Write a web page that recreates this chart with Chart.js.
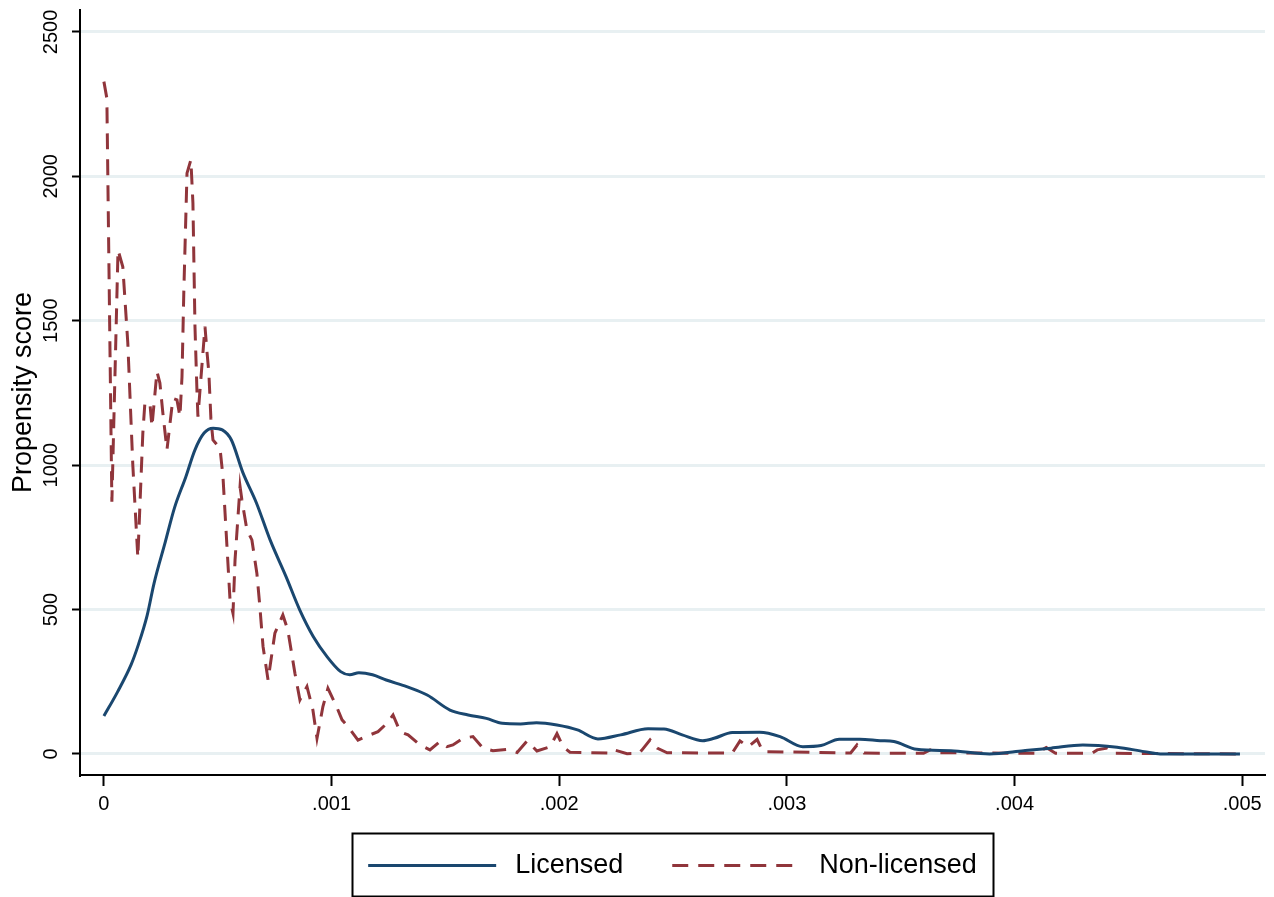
<!DOCTYPE html>
<html>
<head>
<meta charset="utf-8">
<title>Propensity score density</title>
<script src="https://cdn.jsdelivr.net/npm/chart.js@4.4.1/dist/chart.umd.min.js"></script>
<style>
  html, body { margin: 0; padding: 0; background: #ffffff; }
  #wrap { width: 1274px; height: 897px; }
</style>
</head>
<body>
<div id="wrap"><canvas id="c" width="1274" height="897"></canvas></div>
<script>
// Kernel density of the propensity score, by licence status
const seriesNames = ['Licensed', 'Non-licensed'];

const licensedX = [0, 0.00006, 0.00012, 0.00015, 0.00019, 0.00022, 0.00027, 0.00031, 0.00036, 0.0004,
  0.00044, 0.00048, 0.00052, 0.00056, 0.00061, 0.00067, 0.00073, 0.0008, 0.00086, 0.00092,
  0.00098, 0.00104, 0.00108, 0.00112, 0.00118, 0.00124, 0.00133, 0.00142, 0.00152, 0.0016,
  0.00168, 0.00175, 0.00183, 0.0019, 0.00199, 0.00208, 0.00217, 0.00227, 0.00239, 0.00246,
  0.00254, 0.00263, 0.00268, 0.00276, 0.00288, 0.00297, 0.00307, 0.00315, 0.00323, 0.00332,
  0.00341, 0.00347, 0.00357, 0.00372, 0.00389, 0.00404, 0.00416, 0.0043, 0.00445, 0.00457,
  0.00464, 0.00499];
const licensedY = [131, 215, 310, 375, 480, 590, 735, 852, 960, 1053,
  1111, 1128, 1122, 1087, 975, 869, 741, 614, 499, 406,
  337, 285, 274, 281, 274, 256, 233, 204, 152, 135,
  123, 106, 104, 108, 100, 83, 52, 66, 87, 86,
  66, 46, 54, 74, 75, 60, 25, 29, 51, 51,
  46, 43, 16, 11, 0, 11, 20, 31, 23, 8,
  0, 0];

const nonLicensedX = [0, 0.000013, 0.000035, 0.000062, 0.000083, 0.000105, 0.000127, 0.000149, 0.000158, 0.000171,
  0.00018, 0.000202, 0.000211, 0.000233, 0.000246, 0.000259, 0.000277, 0.000303, 0.000321, 0.000334,
  0.000343, 0.000351, 0.000365, 0.000382, 0.000391, 0.0004, 0.000409, 0.000413, 0.000444, 0.000453,
  0.000461, 0.00047, 0.000479, 0.00051, 0.000523, 0.000554, 0.000567, 0.000576, 0.000598, 0.000606,
  0.000628, 0.00065, 0.000672, 0.000685, 0.000699, 0.000721, 0.000751, 0.000786, 0.000808, 0.000839,
  0.000861, 0.000892, 0.000918, 0.000936, 0.000962, 0.000984, 0.001024, 0.001046, 0.001072, 0.001116,
  0.001156, 0.001204, 0.001243, 0.00127, 0.001301, 0.001336, 0.001388, 0.001432, 0.001476, 0.001507,
  0.001533, 0.001577, 0.001621, 0.001665, 0.001709, 0.001771, 0.001815, 0.001859, 0.001902, 0.00196,
  0.00199, 0.002017, 0.002047, 0.00222, 0.002236, 0.002298, 0.00235, 0.002364, 0.002399, 0.00243,
  0.002474, 0.00276, 0.002794, 0.00283, 0.002869, 0.002895, 0.00328, 0.003308, 0.003339, 0.0036,
  0.003629, 0.00366, 0.0041, 0.004112, 0.004139, 0.00418, 0.00434, 0.004363, 0.004407, 0.004433,
  0.004991];
const nonLicensedY = [2328, 2270, 873, 1745, 1687, 1423, 1000, 680, 857, 1111,
  1215, 1215, 1133, 1324, 1284, 1180, 1053, 1231, 1226, 1168,
  1306, 1600, 2011, 2057, 1908, 1480, 1250, 1168, 1480, 1390,
  1320, 1160, 1087, 1058, 960, 533, 487, 672, 926, 880,
  776, 741, 625, 510, 372, 256, 418, 481, 429, 279,
  187, 233, 152, 54, 164, 227, 160, 118, 95, 48,
  62, 77, 106, 135, 77, 66, 31, 14, 43, 25,
  31, 54, 60, 20, 11, 16, 5, 45, 10, 25,
  70, 25, 6, 3, 15, 1, 2, 14, 49, 20,
  4, 3, 45, 25, 50, 8, 3, 31, 3, 2,
  14, 4, 2, 10, 22, 2, 2, 14, 20, 2,
  0];

const xTicks = [0, 0.001, 0.002, 0.003, 0.004, 0.005];
const xTickLabels = ['0', '.001', '.002', '.003', '.004', '.005'];
const yTicks = [0, 500, 1000, 1500, 2000, 2500];
const yTickLabels = ['0', '500', '1000', '1500', '2000', '2500'];

const FONT = '"Liberation Sans", Arial, Helvetica, sans-serif';
const NAVY = '#1A476F';
const MAROON = '#90353B';
const DASH = [16, 10];

const toPoints = (xs, ys) => xs.map((x, i) => ({ x: x, y: ys[i] }));

// y tick labels are drawn turned on their side, reading upwards
const rotatedYLabels = {
  id: 'rotatedYLabels',
  afterDraw(chart) {
    const ctx = chart.ctx;
    const y = chart.scales.y;
    ctx.save();
    ctx.fillStyle = '#000';
    ctx.font = '20px ' + FONT;
    ctx.textAlign = 'center';
    ctx.textBaseline = 'middle';
    yTicks.forEach((v, i) => {
      const py = y.getPixelForValue(v);
      ctx.save();
      ctx.translate(51, py);
      ctx.rotate(-Math.PI / 2);
      ctx.fillText(yTickLabels[i], 0, 0);
      ctx.restore();
    });
    ctx.restore();
  }
};

// boxed legend under the plot, centred on the plot region
const boxedLegend = {
  id: 'boxedLegend',
  afterDraw(chart) {
    const ctx = chart.ctx;
    const area = chart.chartArea;
    const lineLen = 128, gap = 19, itemGap = 49, pad = 16;
    ctx.save();
    ctx.font = '27px ' + FONT;
    const widths = seriesNames.map(n => ctx.measureText(n).width);
    const total = pad * 2 + lineLen * 2 + gap * 2 + widths[0] + widths[1] + itemGap;
    const left = (area.left + area.right) / 2 - total / 2;
    const top = chart.height - 64;
    const h = 63;
    ctx.lineWidth = 2;
    ctx.strokeStyle = '#000';
    ctx.setLineDash([]);
    ctx.strokeRect(Math.round(left) + 0.5, top + 0.5, Math.round(total), h);
    const cy = top + h / 2 + 1;
    let x = left + pad;
    chart.data.datasets.forEach((ds, i) => {
      ctx.beginPath();
      ctx.strokeStyle = ds.borderColor;
      ctx.lineWidth = ds.borderWidth;
      ctx.setLineDash(ds.borderDash || []);
      ctx.moveTo(x, cy);
      ctx.lineTo(x + lineLen, cy);
      ctx.stroke();
      x += lineLen + gap;
      ctx.setLineDash([]);
      ctx.fillStyle = '#000';
      ctx.textAlign = 'left';
      ctx.textBaseline = 'middle';
      ctx.fillText(ds.label, x, cy);
      x += widths[i] + itemGap;
    });
    ctx.restore();
  }
};

const whiteBackground = {
  id: 'whiteBackground',
  beforeDraw(chart) {
    const ctx = chart.ctx;
    ctx.save();
    ctx.fillStyle = '#ffffff';
    ctx.fillRect(0, 0, chart.width, chart.height);
    ctx.restore();
  }
};

new Chart(document.getElementById('c'), {
  type: 'line',
  data: {
    datasets: [
      {
        label: seriesNames[0],
        data: toPoints(licensedX, licensedY),
        borderColor: NAVY,
        borderWidth: 3,
        pointRadius: 0,
        fill: false,
        cubicInterpolationMode: 'monotone'
      },
      {
        label: seriesNames[1],
        data: toPoints(nonLicensedX, nonLicensedY),
        borderColor: MAROON,
        borderWidth: 3,
        borderDash: DASH,
        pointRadius: 0,
        fill: false,
        tension: 0
      }
    ]
  },
  options: {
    responsive: false,
    animation: false,
    layout: { padding: { left: 0, right: 9, top: 10, bottom: 72 } },
    plugins: {
      legend: { display: false },
      tooltip: { enabled: false }
    },
    scales: {
      x: {
        type: 'linear',
        position: 'bottom',
        min: -0.000105,
        max: 0.0051,
        afterBuildTicks: s => { s.ticks = xTicks.map(v => ({ value: v })); },
        afterFit: s => { s.height = 50; },
        ticks: {
          autoSkip: false,
          maxRotation: 0,
          color: '#000',
          font: { family: FONT, size: 20 },
          padding: 6,
          callback: (v, i) => xTickLabels[i]
        },
        grid: {
          drawOnChartArea: false,
          drawTicks: true,
          tickLength: 11,
          tickColor: '#000',
          tickWidth: 2
        },
        border: { display: true, color: '#000', width: 2 }
      },
      y: {
        type: 'linear',
        min: -73,
        max: 2576,
        afterBuildTicks: s => { s.ticks = yTicks.map(v => ({ value: v })); },
        afterFit: s => { s.width = 80; },
        ticks: {
          color: 'rgba(0,0,0,0)',
          font: { family: FONT, size: 1 },
          callback: (v) => String(v)
        },
        grid: {
          color: '#E8F0F2',
          lineWidth: 3,
          drawTicks: true,
          tickLength: 8,
          tickColor: '#000',
          tickWidth: 2
        },
        border: { display: true, color: '#000', width: 2 },
        title: {
          display: true,
          text: 'Propensity score',
          color: '#000',
          font: { family: FONT, size: 27 },
          padding: { top: 7, bottom: 0 }
        }
      }
    }
  },
  plugins: [whiteBackground, rotatedYLabels, boxedLegend]
});
</script>
</body>
</html>
